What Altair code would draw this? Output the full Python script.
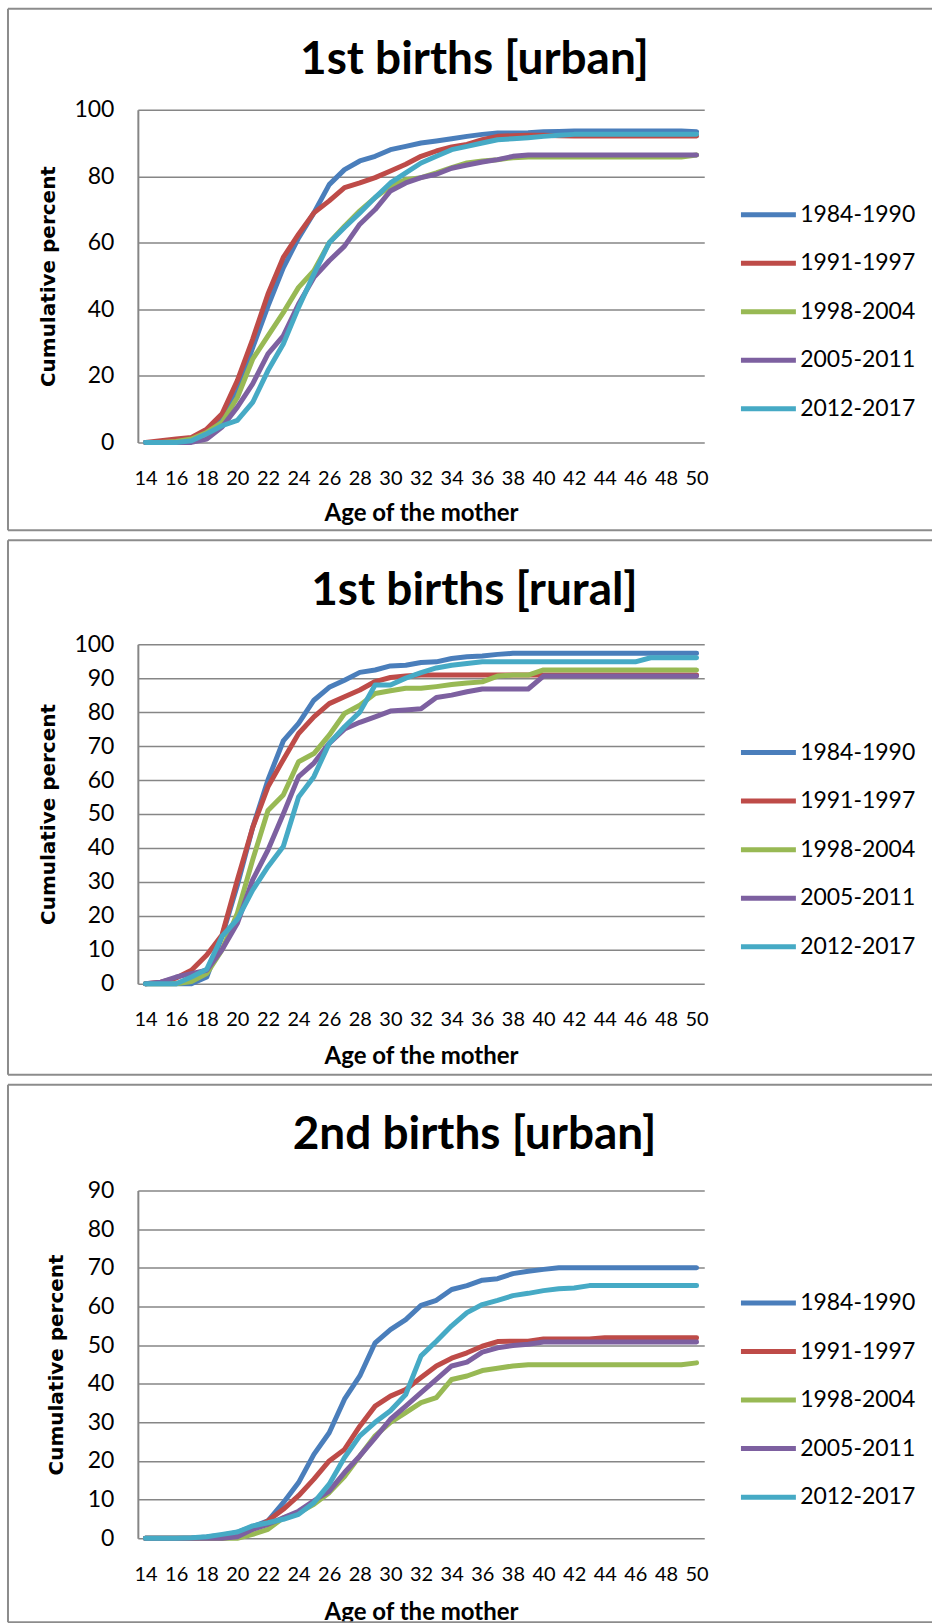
import altair as alt
import pandas as pd

ages = list(range(14, 51))
tick_ages = list(range(14, 51, 2))
series = ["1984-1990", "1991-1997", "1998-2004", "2005-2011", "2012-2017"]
colors = ["#4A7EBB", "#BE4B48", "#98B954", "#7D60A0", "#46AAC5"]

# 1st births [urban]
u1_1984 = [0, 0, 0.5, 1, 3, 7, 15.5, 28.5, 41, 52.5, 61.5, 69, 77.5, 82, 84.6, 86, 88, 89, 90,
           90.6, 91.3, 92, 92.6, 93, 93, 93.1, 93.4, 93.5, 93.6, 93.6, 93.6, 93.6, 93.6, 93.6,
           93.6, 93.6, 93.4]
u1_1991 = [0, 0.5, 1, 1.5, 4, 8.6, 18.6, 31, 44.6, 55.6, 62.6, 69, 72.6, 76.6, 78, 79.6, 81.6,
           83.6, 86, 87.6, 88.8, 89.6, 91, 92, 92.2, 92.3, 92.3, 92.2] + [92.1] * 9
u1_1998 = [0, 0, 0.3, 1, 3, 6, 13.5, 25, 32, 39, 46.6, 51.6, 60, 65, 69.6, 73.6, 77, 79, 79.6,
           81, 82.6, 84, 84.6, 85, 85.6, 85.8] + [85.8] * 10 + [86.4]
u1_2005 = [0, 0, 0, 0, 1, 4.6, 10.6, 17.6, 26.6, 32, 41.6, 49.6, 54.6, 59, 65.6, 70, 75.6, 78,
           79.6, 80.6, 82.4, 83.4, 84.3, 85, 86, 86.4] + [86.4] * 11
u1_2012 = [0, 0, 0, 0.5, 2.6, 5, 6.6, 12, 21.6, 29.6, 40.6, 50.6, 60, 64.6, 69, 73.6, 78, 81,
           84, 86, 88, 89, 90, 91, 91.3, 91.6, 92, 92.3] + [92.6] * 9

# 1st births [rural]
r1_1984 = [0, 0, 0, 0, 2, 14, 29, 46, 60, 71.5, 76.7, 83.5, 87.3, 89.4, 91.7, 92.4, 93.6, 93.8,
           94.6, 94.8, 95.8, 96.3, 96.5, 97, 97.3] + [97.3] * 12
r1_1991 = [0, 0.5, 1.7, 4, 8.5, 14.4, 30.6, 46, 58, 66, 73.7, 78.6, 82.5, 84.5, 86.5, 89, 90.2,
           90.6] + [90.9] * 19
r1_1998 = [0, 0, 0, 0.7, 3, 10, 20.8, 36.5, 51, 55.6, 65.4, 67.8, 73.2, 79.6, 82, 85.5, 86.3,
           87, 87, 87.5, 88.1, 88.6, 88.9, 90.6, 90.9, 90.9] + [92.4] * 11
r1_2005 = [0, 0.5, 2, 3, 4, 10, 17.8, 30.6, 39.4, 50, 61, 65, 70.8, 75, 77, 78.6, 80.3, 80.6,
           81, 84.3, 85, 86, 86.8, 86.8, 86.8, 86.8] + [90.6] * 11
r1_2012 = [0, 0, 0, 2, 4.3, 14, 19, 27.6, 34.5, 40.4, 55, 61, 70.8, 75.7, 80, 88, 88, 90, 91.6,
           93, 93.8, 94.3, 94.8] + [94.8] * 10 + [96] * 4

# 2nd births [urban]
u2_1984 = [0, 0, 0, 0, 0.3, 0.8, 1.5, 3, 4.5, 9.2, 14.4, 21.7, 27.3, 36, 42, 50.6, 54, 56.6,
           60.3, 61.6, 64.4, 65.4, 66.8, 67.2, 68.5, 69.1, 69.6] + [70] * 10
u2_1991 = [0] * 6 + [0.5, 2.3, 4.5, 7.5, 11, 15.3, 20, 23, 29, 34.2, 36.8, 38.5, 41.6, 44.6,
                     46.6, 48, 49.7, 50.9, 51, 51, 51.6, 51.6, 51.6, 51.6] + [51.9] * 7
u2_1998 = [0] * 7 + [1, 2.3, 5.3, 6.6, 8.8, 11.8, 16, 21.3, 26.5, 30, 32.5, 35.1, 36.4, 41.1,
                     42, 43.4, 44, 44.6] + [44.9] * 11 + [45.4]
u2_2005 = [0] * 6 + [0.4, 2.3, 3.6, 5.3, 7, 9.7, 12.2, 17, 21.3, 26, 30.8, 34.2, 37.7, 41.1,
                     44.6, 45.6, 48.2, 49.3, 49.9, 50.2] + [50.8] * 11
u2_2012 = [0, 0, 0, 0.1, 0.4, 1, 1.6, 3.2, 4, 4.9, 6.2, 9.2, 14, 20.9, 26.5, 30, 33, 37.2, 47.2,
           51, 55, 58.4, 60.5, 61.6, 62.8, 63.4, 64.1, 64.6, 64.8] + [65.4] * 8

GRID = "#868686"
FRAME = "#8C8C8C"
PLOT_W = 567


def panel(title, values, ymax, ystep, height, frame_top, frame_bottom, title_y,
          legend_y, xtitle_pad, ytitle_x):
    rows = []
    for s, vals in zip(series, values):
        for a, v in zip(ages, vals):
            rows.append({"age": a, "series": s, "pct": v})
    df = pd.DataFrame(rows)

    lines = alt.Chart(df).mark_line(
        strokeWidth=5, strokeCap="round", strokeJoin="round"
    ).encode(
        x=alt.X("age:O", sort="ascending", scale=alt.Scale(padding=0.5),
                axis=alt.Axis(values=tick_ages, title="Age of the mother",
                              labelAngle=0, titlePadding=xtitle_pad)),
        y=alt.Y("pct:Q", scale=alt.Scale(domain=[0, ymax], nice=False, zero=True),
                axis=alt.Axis(values=list(range(0, ymax + 1, ystep)),
                              title="Cumulative percent", titleX=ytitle_x,
                              titleBaseline="middle")),
        color=alt.Color("series:N",
                        scale=alt.Scale(domain=series, range=colors),
                        legend=alt.Legend(title=None, orient="none",
                                          legendX=601, legendY=legend_y,
                                          symbolType="M-1,0H3", symbolSize=756,
                                          symbolStrokeWidth=5, labelOffset=29,
                                          rowPadding=19.6, padding=0)),
    )

    one = pd.DataFrame({"k": [0]})
    top = alt.Chart(one).mark_rule(color=FRAME, strokeWidth=2).encode(
        x=alt.value(-130), x2=alt.value(795), y=alt.value(frame_top))
    left = alt.Chart(one).mark_rule(color=FRAME, strokeWidth=2).encode(
        x=alt.value(-130), y=alt.value(frame_top), y2=alt.value(frame_bottom))
    layers = [top, left]
    if frame_bottom < height + 120:
        bottom = alt.Chart(one).mark_rule(color=FRAME, strokeWidth=2).encode(
            x=alt.value(-130), x2=alt.value(795), y=alt.value(frame_bottom))
        layers.append(bottom)

    ttl = alt.Chart(pd.DataFrame({"t": [title]})).mark_text(
        font="Lato", fontWeight="bold", fontSize=46, align="center",
        baseline="alphabetic", color="black"
    ).encode(x=alt.value(337), y=alt.value(title_y), text="t:N")

    return alt.layer(*layers, ttl, lines).properties(width=PLOT_W, height=height)


p1 = panel("1st births [urban]", [u1_1984, u1_1991, u1_1998, u1_2005, u1_2012],
           100, 20, 333, -101, 421, -36, 88.5, 13, -89)
p2 = panel("1st births [rural]", [r1_1984, r1_1991, r1_1998, r1_2005, r1_2012],
           100, 10, 340, -104, 431, -39, 92, 15, -89)
p3 = panel("2nd births [urban]", [u2_1984, u2_1991, u2_1998, u2_2005, u2_2012],
           90, 10, 348, -106, 432, -42, 96, 16, -81)

chart = alt.vconcat(p1, p2, p3, spacing=8).resolve_legend(
    color="independent"
).properties(
    padding={"left": 7, "top": 7, "right": 0, "bottom": 0},
    background="white",
).configure_view(stroke=None).configure_axisY(
    domainColor=GRID, domainWidth=2, gridColor=GRID, gridWidth=1.5, ticks=False,
    labelFont="Lato", labelFontSize=23, labelColor="black", labelPadding=24,
    titleFont="DejaVu Sans", titleFontSize=20, titleFontWeight="bold", titleColor="black",
).configure_axisX(
    domain=False, grid=False, ticks=False,
    labelFont="Lato", labelFontSize=20, labelColor="black", labelPadding=26,
    titleFont="Lato", titleFontSize=24, titleFontWeight="bold", titleColor="black",
).configure_legend(
    labelFont="Lato", labelFontSize=23, labelColor="black", labelLimit=300,
)

chart.save("out.html", embed_options={"renderer": "svg", "actions": False})
